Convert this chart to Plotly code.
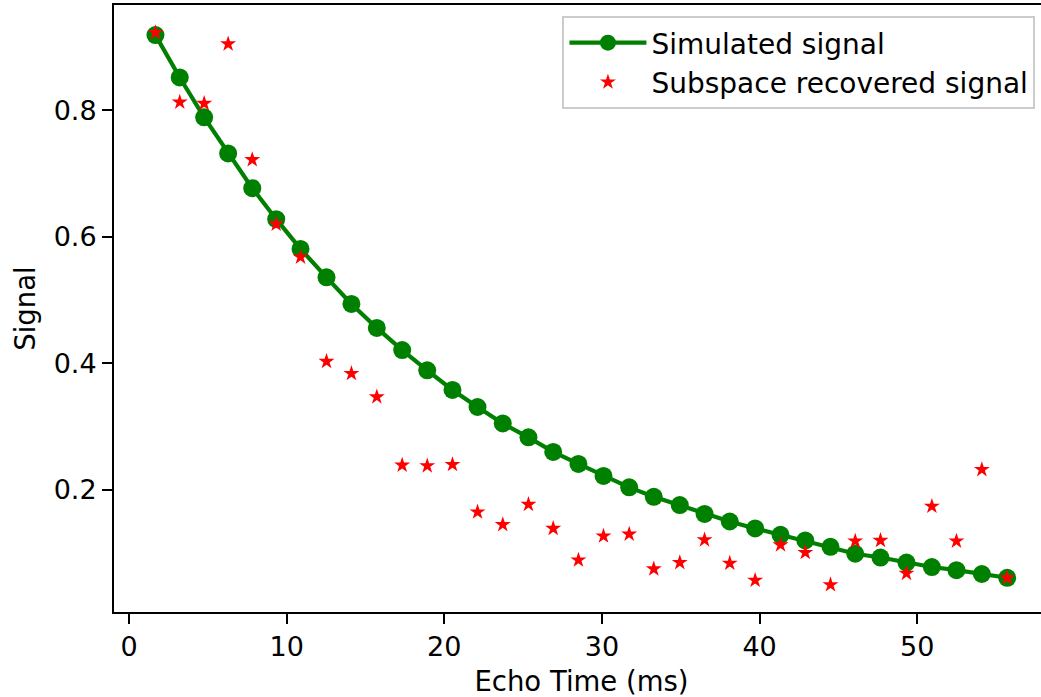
import plotly.graph_objects as go

echo_time = [1.68, 3.22, 4.77, 6.29, 7.82, 9.34, 10.88, 12.53, 14.11, 15.72,
             17.33, 18.92, 20.52, 22.11, 23.71, 25.34, 26.91, 28.51, 30.10, 31.73,
             33.29, 34.94, 36.51, 38.11, 39.72, 41.33, 42.90, 44.50, 46.07, 47.67,
             49.32, 50.93, 52.49, 54.10, 55.71]

simulated = [0.919, 0.852, 0.789, 0.732, 0.677, 0.628, 0.581, 0.536, 0.494, 0.456,
             0.421, 0.389, 0.358, 0.331, 0.305, 0.283, 0.260, 0.241, 0.222, 0.204,
             0.189, 0.176, 0.162, 0.150, 0.139, 0.129, 0.120, 0.110, 0.099, 0.093,
             0.085, 0.078, 0.073, 0.067, 0.061]

recovered = [0.923, 0.813, 0.811, 0.905, 0.722, 0.620, 0.568, 0.403, 0.384, 0.347,
             0.239, 0.238, 0.240, 0.165, 0.145, 0.177, 0.139, 0.089, 0.127, 0.130,
             0.075, 0.085, 0.121, 0.084, 0.057, 0.113, 0.101, 0.050, 0.119, 0.120,
             0.068, 0.174, 0.119, 0.232, 0.061]

x_ticks = [0, 10, 20, 30, 40, 50]
y_ticks = [0.2, 0.4, 0.6, 0.8]
y_tick_text = ["0.2", "0.4", "0.6", "0.8"]

FONT = "DejaVu Sans"

fig = go.Figure()
fig.add_trace(go.Scatter(
    x=echo_time, y=simulated, mode="lines+markers", name="Simulated signal",
    line=dict(color="#008000", width=4.2),
    marker=dict(symbol="circle", size=18, color="#008000"),
))
fig.add_trace(go.Scatter(
    x=echo_time, y=recovered, mode="markers", name="Subspace recovered signal",
    marker=dict(symbol="star", size=12, color="#ff0000", line=dict(width=0)),
))

fig.update_layout(
    width=1049, height=697, autosize=False,
    paper_bgcolor="white", plot_bgcolor="white",
    margin=dict(l=114, r=0, t=4.5, b=85, pad=0),
    font=dict(family=FONT, size=27, color="black"),
    showlegend=True,
    legend=dict(
        x=0.9855, y=0.982, xanchor="right", yanchor="top",
        bgcolor="white", bordercolor="#cccccc", borderwidth=2,
        font=dict(family=FONT, size=28, color="black"),
        itemwidth=77, tracegroupgap=0,
    ),
    xaxis=dict(
        range=[-0.95, 58.36], tickmode="array", tickvals=x_ticks,
        showgrid=False, zeroline=False,
        showline=True, linewidth=2, linecolor="black", mirror=True,
        ticks="outside", ticklen=10, tickwidth=2, tickcolor="black",
        tickfont=dict(family=FONT, size=27, color="black"),
        title=dict(text="Echo Time (ms)", font=dict(family=FONT, size=27.5, color="black"), standoff=12),
    ),
    yaxis=dict(
        range=[0.0069, 0.9666], tickmode="array", tickvals=y_ticks, ticktext=y_tick_text,
        showgrid=False, zeroline=False,
        showline=True, linewidth=2, linecolor="black", mirror=False,
        ticks="outside", ticklen=10, tickwidth=2, tickcolor="black",
        tickfont=dict(family=FONT, size=27, color="black"),
        title=dict(text="Signal", font=dict(family=FONT, size=27.5, color="black"), standoff=10),
    ),
)

fig.write_html(
    "out.html",
    config={"displayModeBar": False},
    post_script=(
        "document.documentElement.style.overflow='hidden';"
        "document.documentElement.style.margin='0';"
        "document.body.style.margin='0';"
        "document.body.style.overflow='hidden';"
    ),
)
